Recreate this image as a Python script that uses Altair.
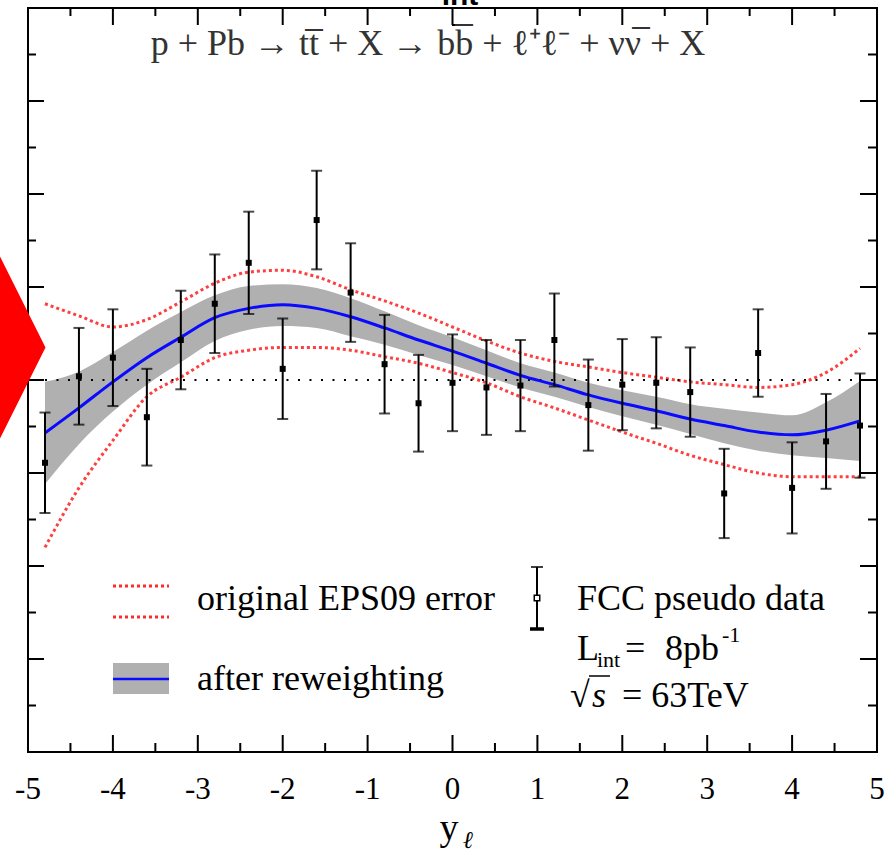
import altair as alt
import pandas as pd

# ---------------- data ----------------
x_pts = [-4.8, -4.4, -4.0, -3.6, -3.2, -2.8, -2.4, -2.0, -1.6, -1.2, -0.8, -0.4, 0.0,
         0.4, 0.8, 1.2, 1.6, 2.0, 2.4, 2.8, 3.2, 3.6, 4.0, 4.4, 4.8]
y_pts = [0.911, 1.004, 1.024, 0.960, 1.043, 1.082, 1.126, 1.012, 1.172, 1.094, 1.017, 0.975, 0.997,
         0.992, 0.994, 1.043, 0.973, 0.995, 0.997, 0.987, 0.878, 1.029, 0.884, 0.934, 0.951]
y_err = [0.054, 0.052, 0.052, 0.052, 0.053, 0.053, 0.055, 0.054, 0.053, 0.053, 0.053, 0.052, 0.052,
         0.051, 0.049, 0.050, 0.049, 0.049, 0.049, 0.048, 0.048, 0.047, 0.049, 0.051, 0.056]

curve_x = [-4.8, -4.4, -4.0, -3.6, -3.2, -2.8, -2.4, -2.0, -1.6, -1.2, -0.8, -0.4, 0.0,
           0.4, 0.8, 1.2, 1.6, 2.0, 2.4, 2.8, 3.2, 3.6, 4.0, 4.4, 4.8]
blue_y = [0.943, 0.970, 0.998, 1.024, 1.046, 1.067, 1.077, 1.081, 1.077, 1.068, 1.056, 1.043, 1.031,
          1.018, 1.005, 0.995, 0.984, 0.975, 0.967, 0.958, 0.951, 0.944, 0.941, 0.946, 0.956]
band_hi = [0.998, 1.009, 1.030, 1.053, 1.073, 1.091, 1.101, 1.103, 1.099, 1.088, 1.074, 1.059, 1.046,
           1.032, 1.018, 1.008, 0.997, 0.989, 0.982, 0.974, 0.969, 0.965, 0.962, 0.976, 0.999]
band_lo = [0.888, 0.931, 0.966, 0.995, 1.019, 1.042, 1.054, 1.058, 1.056, 1.047, 1.038, 1.027, 1.016,
           1.004, 0.992, 0.982, 0.971, 0.961, 0.952, 0.942, 0.932, 0.924, 0.919, 0.916, 0.913]
red_hi = [1.082, 1.069, 1.057, 1.065, 1.084, 1.104, 1.116, 1.118, 1.111, 1.097, 1.085, 1.072, 1.057,
          1.042, 1.029, 1.020, 1.014, 1.008, 1.003, 0.998, 0.995, 0.992, 0.995, 1.008, 1.034]
red_lo = [0.820, 0.884, 0.935, 0.982, 1.003, 1.024, 1.032, 1.035, 1.035, 1.032, 1.025, 1.018, 1.008,
          0.997, 0.982, 0.970, 0.957, 0.944, 0.932, 0.919, 0.909, 0.900, 0.896, 0.896, 0.896]

ref_line = [1.0]
ref_x = [-4.8, 4.8]

x_major = [-5, -4, -3, -2, -1, 0, 1, 2, 3, 4, 5]
x_labels = ["-5", "-4", "-3", "-2", "-1", "0", "1", "2", "3", "4", "5"]
x_minor = [-4.5, -3.5, -2.5, -1.5, -0.5, 0.5, 1.5, 2.5, 3.5, 4.5]
y_major = [0.6, 0.7, 0.8, 0.9, 1.0, 1.1, 1.2, 1.3, 1.4]
y_minor = [0.65, 0.75, 0.85, 0.95, 1.05, 1.15, 1.25, 1.35]

marker_x = [-5.33]
marker_y = [1.035]

# ---------------- layout ----------------
W, H = 849, 744
SERIF = "Liberation Serif"

xs = alt.Scale(domain=[-5, 5], nice=False, zero=False)
ys = alt.Scale(domain=[0.6, 1.4], nice=False, zero=False)

pts = pd.DataFrame({"x": x_pts, "y": y_pts, "err": y_err})
pts["lo"] = pts["y"] - pts["err"]
pts["hi"] = pts["y"] + pts["err"]
cur = pd.DataFrame({"x": curve_x, "blue": blue_y, "blo": band_lo, "bhi": band_hi,
                    "rhi": red_hi, "rlo": red_lo})

X = alt.X("x:Q", scale=xs, axis=None)

band = alt.Chart(cur).mark_area(color="#b0b0b0", opacity=1, interpolate="monotone").encode(
    x=X, y=alt.Y("blo:Q", scale=ys, axis=None), y2="bhi:Q")

red_style = dict(color="#ff2a2a", strokeWidth=3, strokeDash=[3, 3], interpolate="monotone", opacity=0.9)
red_u = alt.Chart(cur).mark_line(**red_style).encode(x=X, y=alt.Y("rhi:Q", scale=ys, axis=None))
red_l = alt.Chart(cur).mark_line(**red_style).encode(x=X, y=alt.Y("rlo:Q", scale=ys, axis=None))

blue = alt.Chart(cur).mark_line(color="#0a0aff", strokeWidth=3, interpolate="monotone").encode(
    x=X, y=alt.Y("blue:Q", scale=ys, axis=None))

ref = alt.Chart(pd.DataFrame({"x": [ref_x[0]], "x2": [ref_x[1]], "y": ref_line})).mark_rule(
    color="black", strokeWidth=2, strokeDash=[2, 9.5]).encode(
    x=X, x2="x2:Q", y=alt.Y("y:Q", scale=ys, axis=None))

ebar = alt.Chart(pts).mark_rule(color="black", strokeWidth=2).encode(
    x=X, y=alt.Y("lo:Q", scale=ys, axis=None), y2="hi:Q")
cap_lo = alt.Chart(pts).mark_tick(color="black", orient="horizontal", size=11, thickness=2).encode(
    x=X, y=alt.Y("lo:Q", scale=ys, axis=None))
cap_hi = alt.Chart(pts).mark_tick(color="black", orient="horizontal", size=11, thickness=2).encode(
    x=X, y=alt.Y("hi:Q", scale=ys, axis=None))
dots = alt.Chart(pts).mark_square(color="black", size=36, opacity=1).encode(
    x=X, y=alt.Y("y:Q", scale=ys, axis=None))

# frame ticks (inward)
def vticks(vals, y0, y1):
    return alt.Chart(pd.DataFrame({"v": vals})).mark_rule(color="black", strokeWidth=2).encode(
        x=alt.X("v:Q", scale=xs, axis=None), y=alt.value(y0), y2=alt.value(y1))

def hticks(vals, x0, x1):
    return alt.Chart(pd.DataFrame({"v": vals})).mark_rule(color="black", strokeWidth=2).encode(
        y=alt.Y("v:Q", scale=ys, axis=None), x=alt.value(x0), x2=alt.value(x1))

ticks = [
    vticks(x_major, H, H - 17), vticks(x_minor, H, H - 9),
    vticks(x_major, 0, 17), vticks(x_minor, 0, 8),
    hticks(y_major, 0, 16), hticks(y_minor, 0, 8),
    hticks(y_major, W, W - 17), hticks(y_minor, W, W - 9),
]

tick_labels = alt.Chart(pd.DataFrame({"v": x_major, "lab": x_labels})).mark_text(
    font=SERIF, fontSize=31, align="center", baseline="alphabetic", color="black").encode(
    x=alt.X("v:Q", scale=xs, axis=None), y=alt.value(H + 47), text="lab:N")

diamond = alt.Chart(pd.DataFrame({"x": marker_x, "y": marker_y})).mark_point(
    shape="M0,-1L0.5,0L0,1L-0.5,0Z", size=33124, filled=True, color="#ff0000", opacity=1).encode(
    x=X, y=alt.Y("y:Q", scale=ys, axis=None))

def label(text, x, y, size=36, font=SERIF, align="left", style="normal", weight="normal", color="black"):
    return alt.Chart(pd.DataFrame({"t": [text]})).mark_text(
        font=font, fontSize=size, align=align, baseline="alphabetic", fontStyle=style,
        fontWeight=weight, color=color).encode(x=alt.value(x), y=alt.value(y), text="t:N")

def hseg(x0, x1, y, **kw):
    return alt.Chart(pd.DataFrame({"a": [0]})).mark_rule(**kw).encode(
        x=alt.value(x0), x2=alt.value(x1), y=alt.value(y))

def vseg(x, y0, y1, **kw):
    return alt.Chart(pd.DataFrame({"a": [0]})).mark_rule(**kw).encode(
        x=alt.value(x), y=alt.value(y0), y2=alt.value(y1))

annot = [
    label("int", 432, -3, size=30, font="Liberation Sans", align="center", weight="bold"),
    hseg(424, 439, 17, color="black", strokeWidth=2),
    label("p + Pb \u2192 tt\u0305 + X \u2192 bb\u0305 + \u2113\u207a\u2113\u207b + \u03bd\u03bd\u0305 + X",
          400, 47, size=36, align="center", color="#333333"),
    # legend: EPS09
    hseg(85, 141, 578, color="#ff2a2a", strokeWidth=3, strokeDash=[3, 3]),
    hseg(85, 141, 609, color="#ff2a2a", strokeWidth=3, strokeDash=[3, 3]),
    label("original EPS09 error", 169, 602),
    # legend: reweighting
    alt.Chart(pd.DataFrame({"a": [0]})).mark_rect(color="#b0b0b0").encode(
        x=alt.value(85), x2=alt.value(141), y=alt.value(655), y2=alt.value(686)),
    hseg(85, 141, 671, color="#0a0aff", strokeWidth=2.5),
    label("after reweighting", 169, 682),
    # legend: pseudo data
    vseg(509, 559, 621, color="black", strokeWidth=2),
    hseg(503, 515, 559, color="black", strokeWidth=1.5),
    hseg(502, 516, 621, color="black", strokeWidth=3.5),
    alt.Chart(pd.DataFrame({"a": [0]})).mark_square(size=30, color="white", stroke="black",
                                                    strokeWidth=1.5, opacity=1).encode(
        x=alt.value(509), y=alt.value(590)),
    label("FCC pseudo data", 549, 602),
    label("L", 549, 652),
    label("int", 569, 659, size=22),
    label("=", 597, 652),
    label("8pb", 637, 652),
    label("-1", 694, 634, size=22),
    label("\u221a", 542, 699),
    hseg(561, 582, 668, color="black", strokeWidth=1.5),
    label("s", 564, 699, style="italic"),
    label("= 63TeV", 594, 699),
    # axis title
    label("y", 421, 832, size=38, align="center"),
    label("\u2113", 440, 840, size=24, style="italic", align="center"),
]

chart = alt.layer(
    band, red_u, red_l, ref, blue, ebar, cap_lo, cap_hi, dots, *ticks, tick_labels, diamond, *annot
).properties(
    width=W, height=H,
    autosize=alt.AutoSizeParams(type="none"),
    padding={"left": 28, "top": 8, "right": 9, "bottom": 107},
    background="white",
).configure_view(stroke="black", strokeWidth=2)

chart.save("out.html", embed_options={"renderer": "svg", "actions": False})
